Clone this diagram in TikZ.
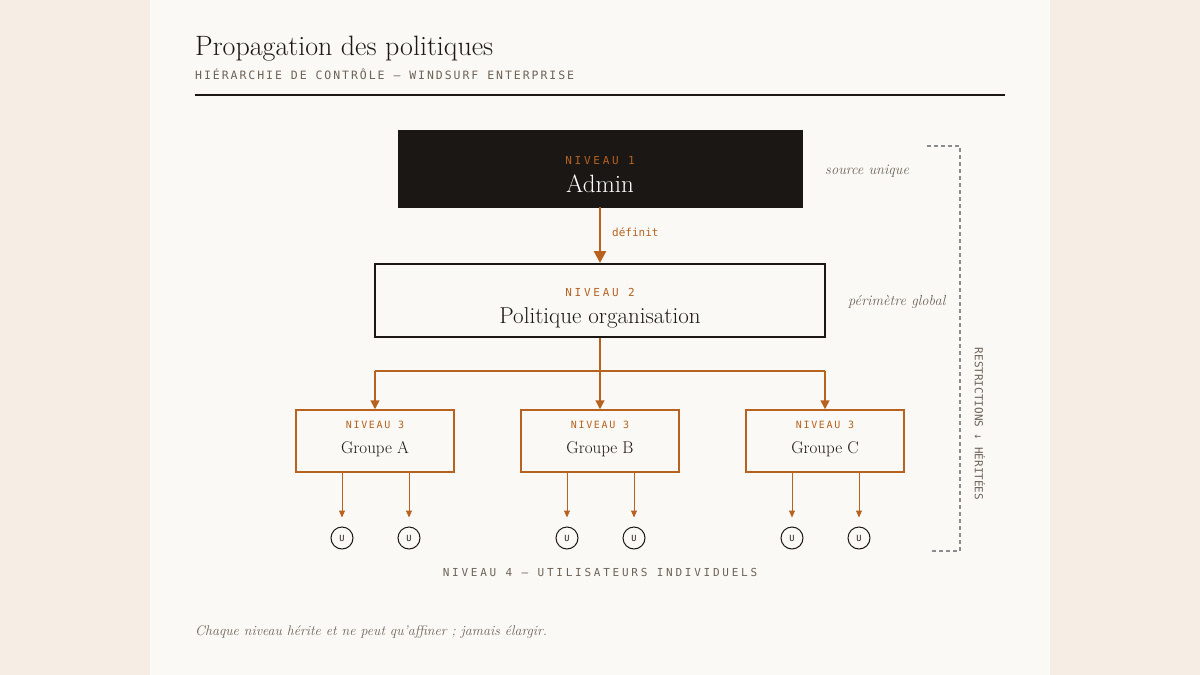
\documentclass[tikz,border=0pt]{standalone}
\usepackage{fontspec}
\usetikzlibrary{arrows.meta}
\newfontfamily\monoA[LetterSpace=17]{DejaVu Sans Mono}
\newfontfamily\monoB[LetterSpace=25]{DejaVu Sans Mono}
\newfontfamily\monoC{DejaVu Sans Mono}
\definecolor{outerbg}{HTML}{F6EDE4}
\definecolor{panel}{HTML}{FAF9F6}
\definecolor{ink}{HTML}{1B1714}
\definecolor{rust}{HTML}{B8621F}
\definecolor{muted}{HTML}{6E6257}
\definecolor{dashc}{HTML}{8C8C8C}
\tikzset{
  lvl/.style={inner sep=0pt, text=rust, font=\monoB\fontsize{11}{12}\selectfont},
  lvlsmall/.style={inner sep=0pt, text=rust, font=\monoA\fontsize{10}{12}\selectfont},
  grpbox/.style={draw=rust, line width=1.5pt, fill=panel, minimum width=158pt, minimum height=62pt, inner sep=0pt},
  grpname/.style={inner sep=0pt, text=ink, font=\fontsize{17}{20}\selectfont},
  dist/.style={draw=rust, line width=1.5pt, -{Triangle[length=9pt,width=9pt]}},
  uarrow/.style={draw=rust, line width=1pt, -{Triangle[length=7pt,width=6pt]}},
  user/.style={circle, draw=ink, line width=1pt, minimum size=22pt, inner sep=0pt, font=\monoC\fontsize{8.5}{9}\selectfont, text=ink},
  note/.style={inner sep=0pt, text=muted, font=\itshape\fontsize{14.5}{16}\selectfont},
}
\begin{document}
\begin{tikzpicture}[x=1pt,y=-1pt]
\useasboundingbox (0,0) rectangle (1200,675);
\fill[outerbg] (0,0) rectangle (1200,675);
\fill[panel] (150,0) rectangle (1050,675);
% header
\node[anchor=base west, inner sep=0pt, text=ink, font=\fontsize{28}{30}\selectfont] (title) at (195,55) {Propagation des politiques};
\node[anchor=base west, inner sep=0pt, text=muted, font=\monoA\fontsize{11.5}{13}\selectfont] (subtitle) at (195,79) {HIÉRARCHIE DE CONTRÔLE — WINDSURF ENTERPRISE};
\coordinate (r1) at (195,95);
\coordinate (r2) at (1005,95);
\draw[ink, line width=1.2pt] (r1) -- (r2);
% level 1
\node[fill=ink, draw=ink, minimum width=404pt, minimum height=77pt, inner sep=0pt] (admin) at (600,168.5) {};
\node[lvl, anchor=base] (l1) at (600,164) {NIVEAU 1};
\node[anchor=base, inner sep=0pt, text=white, font=\fontsize{25}{28}\selectfont] (adminname) at (600,192) {Admin};
% level 2
\node[draw=ink, line width=2pt, fill=panel, minimum width=450pt, minimum height=73pt, inner sep=0pt] (org) at (600,300.5) {};
\node[lvl, anchor=base] (l2) at (600,296) {NIVEAU 2};
\node[anchor=base, inner sep=0pt, text=ink, font=\fontsize{23}{26}\selectfont] (orgname) at (600,323) {Politique organisation};
\draw[rust, line width=2.5pt, -{Triangle[length=12pt,width=12pt]}] (admin.south) -- (org.north);
\node[anchor=base west, inner sep=0pt, text=rust, font=\monoC\fontsize{11}{12}\selectfont] (def) at (612,236) {définit};
% notes
\node[note, anchor=base west] (src) at (825,174) {source unique};
\node[note, anchor=base west] (per) at (848,305) {périmètre global};
% bracket
\coordinate (b1) at (927,146);
\coordinate (b2) at (960,146);
\coordinate (b3) at (960,551);
\coordinate (b4) at (930,551);
\draw[dashc, line width=1.2pt, dash pattern=on 4pt off 3pt] (b1) -- (b2) -- (b3) -- (b4);
\node[rotate=-90, inner sep=0pt, text=muted, font=\monoC\fontsize{11}{12}\selectfont] (restr) at (980,424) {RESTRICTIONS ↓ HÉRITÉES};
% groups
\node[grpbox] (ga) at (375,441) {};
\node[grpbox] (gb) at (600,441) {};
\node[grpbox] (gc) at (825,441) {};
\foreach \g/\n in {ga/A, gb/B, gc/C}{
  \node[lvlsmall, anchor=base] (\g lvl) at ([yshift=13pt]\g.center) {NIVEAU 3};
  \node[grpname, anchor=base] (\g name) at ([yshift=-12pt]\g.center) {Groupe \n};
}
% distribution
\coordinate (split) at (600,371);
\coordinate (ja) at (375,371);
\coordinate (jc) at (825,371);
\draw[rust, line width=1.5pt] (org.south) -- (split);
\draw[rust, line width=1.5pt] (ja) -- (jc);
\draw[dist] (ja) -- (ga.north);
\draw[dist] (split) -- (gb.north);
\draw[dist] (jc) -- (gc.north);
% users
\foreach \g/\x in {ga/375, gb/600, gc/825}{
  \node[user] (\g u1) at (\x-33,538) {U};
  \node[user] (\g u2) at (\x+34,538) {U};
  \coordinate (\g s1) at (\x-33,472);
  \coordinate (\g s2) at (\x+34,472);
  \draw[uarrow] (\g s1) -- ([yshift=9pt]\g u1.north);
  \draw[uarrow] (\g s2) -- ([yshift=9pt]\g u2.north);
}
\node[anchor=base, inner sep=0pt, text=muted, font=\monoB\fontsize{11}{12}\selectfont] (lvl4) at (600,576) {NIVEAU 4 — UTILISATEURS INDIVIDUELS};
% footer
\node[anchor=base west, inner sep=0pt, text=muted, font=\itshape\fontsize{14}{16}\selectfont] (foot) at (195,635) {Chaque niveau hérite et ne peut qu'affiner ; jamais élargir.};
\end{tikzpicture}
\end{document}
